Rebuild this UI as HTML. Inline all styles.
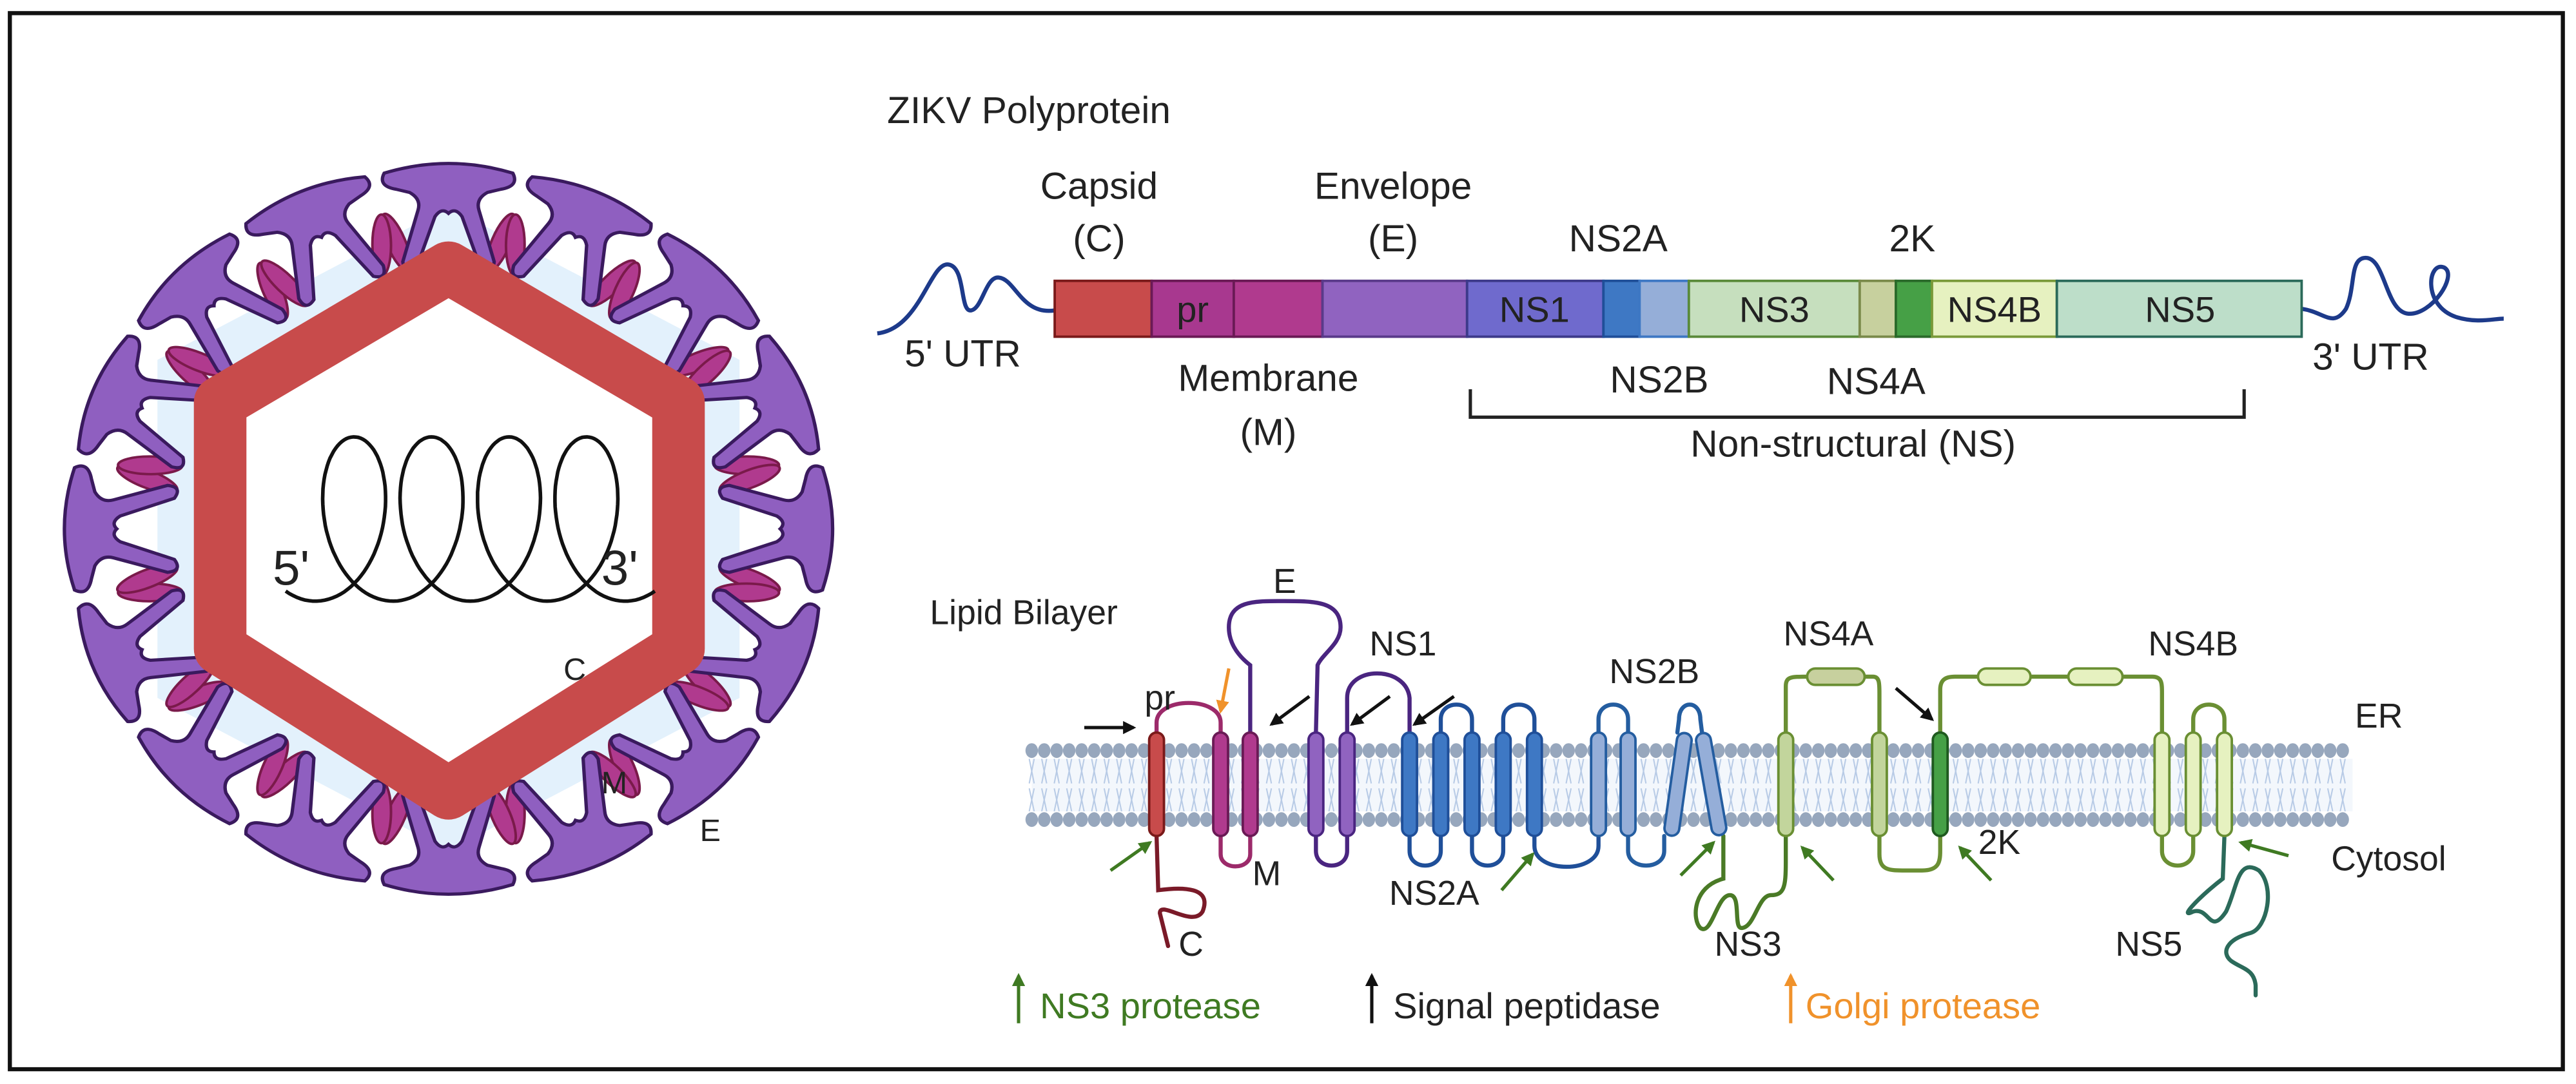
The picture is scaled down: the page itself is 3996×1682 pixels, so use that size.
<!DOCTYPE html>
<html><head><meta charset="utf-8">
<style>
html,body{margin:0;padding:0;background:#fff;}
svg{display:block;}
text{font-family:"Liberation Sans",Arial,sans-serif;fill:#222;}
</style></head>
<body>
<svg id="s" width="3996" height="1682" viewBox="0 0 1568 660" preserveAspectRatio="none" xmlns="http://www.w3.org/2000/svg">
<defs>
<marker id="ab" viewBox="0 0 10 10" refX="8" refY="5" markerWidth="4" markerHeight="4" orient="auto"><path d="M0,0 L10,5 L0,10 z" fill="#111"/></marker>
<marker id="ag" viewBox="0 0 10 10" refX="8" refY="5" markerWidth="4" markerHeight="4" orient="auto"><path d="M0,0 L10,5 L0,10 z" fill="#3f7a22"/></marker>
<marker id="ao" viewBox="0 0 10 10" refX="8" refY="5" markerWidth="4" markerHeight="4" orient="auto"><path d="M0,0 L10,5 L0,10 z" fill="#f0922b"/></marker>
<g id="spk">
 <ellipse cx="-31" cy="-178" rx="5.5" ry="19" fill="#b03a8e" stroke="#7a1a4a" stroke-width="1.5" transform="rotate(-22 -31 -178)"/>
 <ellipse cx="31" cy="-178" rx="5.5" ry="19" fill="#b03a8e" stroke="#7a1a4a" stroke-width="1.5" transform="rotate(22 31 -178)"/>
 <path d="M-38,-221 Q0,-233 38,-221 Q42,-213 31,-211 L23,-209 Q16,-205 18,-198 L27,-166 Q26,-157 19,-162 L8,-194 Q4,-200 0,-196 Q-4,-200 -8,-194 L-19,-162 Q-26,-157 -27,-166 L-18,-198 Q-16,-205 -23,-209 L-31,-211 Q-42,-213 -38,-221 Z" fill="#8f5fc0" stroke="#3a1a5e" stroke-width="2"/>
</g>
</defs>
<rect x="6" y="8" width="1554" height="643" fill="none" stroke="#111" stroke-width="2.5"/>

<!-- virus -->
<g transform="translate(273,322) scale(1.03,0.98)">
 <polygon points="0,-200 172,-105 172,105 0,200 -172,105 -172,-105" fill="#e3f1fc"/>
</g>
<g id="spikes"></g>
<path d="M273,163 L413,245 L413,395 L273,483 L134,395 L134,245 Z" fill="#fff" stroke="#c84b4b" stroke-width="32" stroke-linejoin="round"/>
<path id="coil" d="" fill="none" stroke="#111" stroke-width="2.2"/>
<text x="166" y="356" font-size="30">5'</text>
<text x="366" y="356" font-size="30">3'</text>
<text x="343" y="414" font-size="19">C</text>
<text x="366" y="483" font-size="19">M</text>
<text x="426" y="512" font-size="19">E</text>

<!-- polyprotein -->
<text x="540" y="75" font-size="23">ZIKV Polyprotein</text>
<g font-size="23" text-anchor="middle">
<text x="669" y="121">Capsid</text><text x="669" y="153">(C)</text>
<text x="848" y="121">Envelope</text><text x="848" y="153">(E)</text>
<text x="985" y="153">NS2A</text>
<text x="1164" y="153">2K</text>
<text x="586" y="223">5' UTR</text>
<text x="1443" y="225">3' UTR</text>
<text x="772" y="238">Membrane</text><text x="772" y="271">(M)</text>
<text x="1010" y="239">NS2B</text>
<text x="1142" y="240">NS4A</text>
<text x="1128" y="278">Non-structural (NS)</text>
</g>
<path d="M534,203 C560,200 566,160 577,161 C588,162 584,190 591,189 C598,188 600,168 608,169 C618,170 622,192 642,189" fill="none" stroke="#1d3a8a" stroke-width="2.5"/>
<path d="M1401,188 C1415,190 1420,200 1428,188 C1434,175 1430,157 1440,157 C1452,157 1452,190 1466,191 C1480,192 1496,168 1488,163 C1478,158 1474,186 1495,193 C1508,197 1518,194 1524,194" fill="none" stroke="#1d3a8a" stroke-width="2.5"/>
<g stroke-width="1.5">
<rect x="642" y="171" width="59" height="34" fill="#c84b4b" stroke="#7a1a1a"/>
<rect x="701" y="171" width="50" height="34" fill="#a8388f" stroke="#6a1a55"/>
<rect x="751" y="171" width="54" height="34" fill="#b03a8e" stroke="#6a1a55"/>
<rect x="805" y="171" width="88" height="34" fill="#9063c0" stroke="#5a3a8a"/>
<rect x="893" y="171" width="83" height="34" fill="#6f6acd" stroke="#3d3a8a"/>
<rect x="976" y="171" width="22" height="34" fill="#3e78c4" stroke="#1f4f99"/>
<rect x="998" y="171" width="30" height="34" fill="#95aed8" stroke="#3e78c4"/>
<rect x="1028" y="171" width="104" height="34" fill="#c6dfbe" stroke="#5a8a3a"/>
<rect x="1132" y="171" width="22" height="34" fill="#c7d09e" stroke="#7a8a4a"/>
<rect x="1154" y="171" width="22" height="34" fill="#46a046" stroke="#2a6a2a"/>
<rect x="1176" y="171" width="76" height="34" fill="#e6f1c0" stroke="#7a9a3a"/>
<rect x="1252" y="171" width="149" height="34" fill="#bddec9" stroke="#2b6a5a"/>
</g>
<g font-size="22" text-anchor="middle">
<text x="726" y="196">pr</text><text x="934" y="196">NS1</text><text x="1080" y="196">NS3</text><text x="1214" y="196">NS4B</text><text x="1327" y="196">NS5</text>
</g>
<path d="M895,237 L895,254 L1366,254 L1366,237" fill="none" stroke="#222" stroke-width="2"/>

<!-- membrane -->
<g id="mem"></g>

<!-- loops -->
<g fill="none" stroke-width="2.5" stroke-linecap="round">
<path d="M704,509 L705,542 C720,540 738,540 732,555 C726,565 706,548 706,556 L711,576" stroke="#7a1a28"/>
<path d="M704,446 L704,440 C704,424 743,424 743,440 L743,446" stroke="#9c2a6a"/>
<path d="M743,509 L743,520 C743,530 761,530 761,520 L761,509" stroke="#9c2a6a"/>
<path d="M761,446 L761,405 C752,398 748,390 748,382 C748,365 765,366 782,366 C800,366 816,366 816,382 C816,392 805,398 802,405 L801,446" stroke="#4a2580"/>
<path d="M801,509 L801,518 C801,530 820,530 820,518 L820,509" stroke="#4a2580"/>
<path d="M820,446 L820,425 C820,405 856,405 858,425 L858,446" stroke="#4a2580"/>
<path d="M858,509 L858,518 C858,530 877,530 877,518 L877,509 M877,446 L877,438 C877,426 896,426 896,438 L896,446 M896,509 L896,518 C896,530 915,530 915,518 L915,509 M915,446 L915,438 C915,426 934,426 934,438 L934,446 M934,509 L934,515 C934,532 973,532 973,515 L973,509" stroke="#1f4f99"/>
<path d="M973,446 L973,438 C973,426 991,426 991,438 L991,446 M991,509 L991,518 C991,530 1013,530 1013,518 L1013,509 M1021,446 L1022,438 C1022,426 1035,426 1035,438 L1036,446" stroke="#245da0"/>
<path d="M1049,509 L1049,535 C1030,540 1030,560 1035,565 C1042,570 1045,545 1053,545 C1060,545 1055,565 1060,565 C1068,565 1070,545 1078,545 C1086,545 1087,540 1087,525 L1087,509" stroke="#4a7a26"/>
<path d="M1087,446 L1087,418 C1087,412 1090,412 1100,412 M1135,412 L1140,412 C1144,412 1144,416 1144,422 L1144,446 M1144,509 L1144,520 C1144,530 1150,530 1160,530 L1170,530 C1180,530 1181,525 1181,518 L1181,509 M1181,446 L1181,420 C1181,414 1184,412 1190,412 L1310,412 C1316,412 1316,416 1316,422 L1316,446 M1316,509 L1316,518 C1316,530 1335,530 1335,518 L1335,509 M1335,446 L1335,438 C1335,426 1354,426 1354,438 L1354,446" stroke="#6a8f33"/>
<path d="M1354,509 L1353,535 C1340,545 1325,560 1335,555 C1345,552 1345,570 1355,555 C1362,540 1362,522 1375,530 C1385,540 1380,565 1370,568 C1355,572 1352,580 1358,585 C1365,590 1372,590 1373,600 L1373,606" stroke="#2b6a5a"/>
<rect x="1100" y="407" width="35" height="10" rx="5" fill="#c7d09e" stroke="#6a8f33" stroke-width="1.5"/>
<rect x="1204" y="407" width="32" height="10" rx="5" fill="#e6f1c0" stroke="#6a8f33" stroke-width="1.5"/>
<rect x="1259" y="407" width="33" height="10" rx="5" fill="#e6f1c0" stroke="#6a8f33" stroke-width="1.5"/>
</g>
<!-- helices -->
<g stroke-width="1.5">
<rect x="699.5" y="446" width="9" height="63" rx="4.5" fill="#c84b4b" stroke="#7a1a1a"/>
<rect x="738.5" y="446" width="9" height="63" rx="4.5" fill="#b03a8e" stroke="#6a1a55"/>
<rect x="756.5" y="446" width="9" height="63" rx="4.5" fill="#b03a8e" stroke="#6a1a55"/>
<rect x="796.5" y="446" width="9" height="63" rx="4.5" fill="#9063c0" stroke="#4a2580"/>
<rect x="815.5" y="446" width="9" height="63" rx="4.5" fill="#9063c0" stroke="#4a2580"/>
<rect x="853.5" y="446" width="9" height="63" rx="4.5" fill="#3e78c4" stroke="#1f4f99"/>
<rect x="872.5" y="446" width="9" height="63" rx="4.5" fill="#3e78c4" stroke="#1f4f99"/>
<rect x="891.5" y="446" width="9" height="63" rx="4.5" fill="#3e78c4" stroke="#1f4f99"/>
<rect x="910.5" y="446" width="9" height="63" rx="4.5" fill="#3e78c4" stroke="#1f4f99"/>
<rect x="929.5" y="446" width="9" height="63" rx="4.5" fill="#3e78c4" stroke="#1f4f99"/>
<rect x="968.5" y="446" width="9" height="63" rx="4.5" fill="#95aed8" stroke="#245da0"/>
<rect x="986.5" y="446" width="9" height="63" rx="4.5" fill="#95aed8" stroke="#245da0"/>
<rect x="1017" y="446" width="9" height="63" rx="4.5" fill="#95aed8" stroke="#245da0" transform="rotate(8 1021 477)"/>
<rect x="1037" y="446" width="9" height="63" rx="4.5" fill="#95aed8" stroke="#245da0" transform="rotate(-10 1041 477)"/>
<rect x="1082.5" y="446" width="9" height="63" rx="4.5" fill="#c2d59c" stroke="#6a8f33"/>
<rect x="1139.5" y="446" width="9" height="63" rx="4.5" fill="#c2d59c" stroke="#6a8f33"/>
<rect x="1176.5" y="446" width="9" height="63" rx="4.5" fill="#46a046" stroke="#1f5a1f"/>
<rect x="1311.5" y="446" width="9" height="63" rx="4.5" fill="#e6f1c0" stroke="#6a8f33"/>
<rect x="1330.5" y="446" width="9" height="63" rx="4.5" fill="#e6f1c0" stroke="#6a8f33"/>
<rect x="1349.5" y="446" width="9" height="63" rx="4.5" fill="#e6f1c0" stroke="#6a8f33"/>
</g>
<!-- arrows -->
<g stroke-width="2">
<line x1="676" y1="530" x2="700" y2="513" stroke="#3f7a22" marker-end="url(#ag)"/>
<line x1="914" y1="542" x2="933" y2="520" stroke="#3f7a22" marker-end="url(#ag)"/>
<line x1="1023" y1="533" x2="1043" y2="513" stroke="#3f7a22" marker-end="url(#ag)"/>
<line x1="1116" y1="536" x2="1097" y2="516" stroke="#3f7a22" marker-end="url(#ag)"/>
<line x1="1212" y1="536" x2="1193" y2="516" stroke="#3f7a22" marker-end="url(#ag)"/>
<line x1="1393" y1="521" x2="1364" y2="513" stroke="#3f7a22" marker-end="url(#ag)"/>
<line x1="660" y1="443" x2="690" y2="443" stroke="#111" marker-end="url(#ab)"/>
<line x1="797" y1="424" x2="774" y2="441" stroke="#111" marker-end="url(#ab)"/>
<line x1="846" y1="424" x2="823" y2="441" stroke="#111" marker-end="url(#ab)"/>
<line x1="885" y1="424" x2="861" y2="441" stroke="#111" marker-end="url(#ab)"/>
<line x1="1154" y1="419" x2="1176" y2="438" stroke="#111" marker-end="url(#ab)"/>
<line x1="748" y1="407" x2="743" y2="433" stroke="#f0922b" marker-end="url(#ao)"/>
<line x1="620" y1="623" x2="620" y2="594" stroke="#3f7a22" marker-end="url(#ag)"/>
<line x1="835" y1="623" x2="835" y2="594" stroke="#111" marker-end="url(#ab)"/>
<line x1="1090" y1="623" x2="1090" y2="594" stroke="#f0922b" marker-end="url(#ao)"/>
</g>
<g font-size="21">
<text x="566" y="380">Lipid Bilayer</text>
<text x="782" y="361" text-anchor="middle">E</text>
<text x="854" y="399" text-anchor="middle">NS1</text>
<text x="1007" y="416" text-anchor="middle">NS2B</text>
<text x="1113" y="393" text-anchor="middle">NS4A</text>
<text x="1335" y="399" text-anchor="middle">NS4B</text>
<text x="1448" y="443" text-anchor="middle">ER</text>
<text x="706" y="432" text-anchor="middle">pr</text>
<text x="771" y="539" text-anchor="middle">M</text>
<text x="873" y="551" text-anchor="middle">NS2A</text>
<text x="1217" y="520" text-anchor="middle">2K</text>
<text x="1454" y="530" text-anchor="middle">Cytosol</text>
<text x="725" y="582" text-anchor="middle">C</text>
<text x="1064" y="582" text-anchor="middle">NS3</text>
<text x="1308" y="582" text-anchor="middle">NS5</text>
</g>
<g font-size="22">
<text x="633" y="620" style="fill:#3f7a22">NS3 protease</text>
<text x="848" y="620">Signal peptidase</text>
<text x="1099" y="620" style="fill:#f0922b">Golgi protease</text>
</g>
</svg>
<script>
(function(){
var NS="http://www.w3.org/2000/svg";
var sp=document.getElementById('spikes');
var n=16;
for(var i=0;i<n;i++){
 var a=360/n*i;
 var u=document.createElementNS(NS,'use');
 u.setAttribute('href','#spk');
 u.setAttribute('transform','translate(273,322) scale(1.03,0.98) rotate('+a+')');
 sp.appendChild(u);
}
// coil
var d='';
for(var k=0;k<=400;k++){
 var t=-0.5+k*(8*Math.PI+1.0)/400;
 var x=192+7.5*t+30*Math.sin(t);
 var y=316+50*Math.cos(t);
 d+=(k?'L':'M')+x.toFixed(1)+','+y.toFixed(1);
}
document.getElementById('coil').setAttribute('d',d);
// membrane
var m=document.getElementById('mem');
var h='';
h+='<rect x="628" y="462" width="804" height="32" fill="#f3f7fc"/>';
for(var x=628;x<=1432;x+=7.6){
 h+='<line x1="'+(x-1.5)+'" y1="462" x2="'+(x+1.5)+'" y2="477" stroke="#b8cbe6" stroke-width="0.8"/>';
 h+='<line x1="'+(x+1.5)+'" y1="462" x2="'+(x-1.5)+'" y2="477" stroke="#b8cbe6" stroke-width="0.8"/>';
 h+='<line x1="'+(x-1.5)+'" y1="480" x2="'+(x+1.5)+'" y2="494" stroke="#b8cbe6" stroke-width="0.8"/>';
 h+='<line x1="'+(x+1.5)+'" y1="480" x2="'+(x-1.5)+'" y2="494" stroke="#b8cbe6" stroke-width="0.8"/>';
 h+='<ellipse cx="'+x+'" cy="457" rx="3.8" ry="4.5" fill="#97a7bd"/>';
 h+='<ellipse cx="'+x+'" cy="499" rx="3.8" ry="4.5" fill="#97a7bd"/>';
}
m.innerHTML=h;
})();
</script>
</body></html>
